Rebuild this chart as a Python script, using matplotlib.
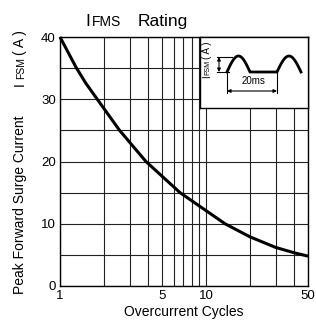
import matplotlib.pyplot as plt
import numpy as np

plt.rcParams['font.family'] = ['Liberation Sans', 'DejaVu Sans']

# values
cycles = [1, 1.29, 1.5, 1.8, 2.56, 3.88, 6.64, 13.5, 20, 30, 40, 50]
ifsm = [40, 35.1, 32.6, 30, 25, 20, 15, 10, 7.9, 6.2, 5.35, 4.8]

x_ticks = [1, 5, 10, 50]
x_grid = [2, 3, 4, 6, 7, 8, 9, 20, 30, 40]
y_ticks = [0, 10, 20, 30, 40]
y_grid = [5, 15, 25, 35]

W, H = 316, 322
fig = plt.figure(figsize=(W / 100, H / 100), dpi=100)


def fx(px):
    return px / W


def fy(py):
    return 1 - py / H


ax = fig.add_axes([fx(60), fy(286), fx(308) - fx(60), fy(37) - fy(286)])
ax.set_xscale('log')
ax.set_xlim(1, 50)
ax.set_ylim(0, 40)
ax.set_xticks(x_ticks)
ax.set_xticklabels([str(v) for v in x_ticks])
ax.set_xticks([], minor=True)
ax.set_yticks(y_ticks)
ax.tick_params(length=0, labelsize=9.5, pad=3)
for v in x_ticks + x_grid:
    ax.axvline(v, color='#222222', lw=0.8, zorder=1)
for v in y_ticks + y_grid:
    ax.axhline(v, color='#222222', lw=0.8, zorder=1)
for s in ax.spines.values():
    s.set_linewidth(1.0)
ax.plot(cycles, ifsm, color='black', lw=2.2, zorder=3, clip_on=False,
        solid_capstyle='butt', solid_joinstyle='round')

ax.set_xlabel('Overcurrent Cycles', fontsize=10, labelpad=2)

# title with subscript-like letters
fig.text(fx(85), fy(26), 'I', fontsize=12.5, ha='left', va='baseline')
fig.text(fx(92), fy(26), 'FMS', fontsize=10, ha='left', va='baseline')
fig.text(fx(138), fy(26), 'Rating', fontsize=12.5, ha='left', va='baseline')

# y label pieces
fig.text(fx(20), fy(205), 'Peak Forward Surge Current', fontsize=10,
         rotation=90, ha='center', va='center')
fig.text(fx(20), fy(84), 'I', fontsize=10, rotation=90, ha='center', va='center')
fig.text(fx(21), fy(68), 'FSM', fontsize=7.5, rotation=90, ha='center', va='center')
fig.text(fx(20), fy(43), '( A )', fontsize=10, rotation=90, ha='center', va='center')

# inset waveform diagram
ins = fig.add_axes([fx(200), fy(108), fx(308) - fx(200), fy(37) - fy(108)])
ins.set_xlim(0, 108)
ins.set_ylim(0, 71)
ins.set_xticks([])
ins.set_yticks([])
ins.set_facecolor('white')
for s in ins.spines.values():
    s.set_linewidth(1.0)

base, amp = 36, 16
t = np.linspace(0, np.pi, 40)
h1 = 27 + (50 - 27) * t / np.pi
h2 = 77 + (101 - 77) * t / np.pi
wx = np.concatenate([h1, [77], h2])
wy = np.concatenate([base + amp * np.sin(t), [base], base + amp * np.sin(t)])
ins.plot(wx, wy, color='black', lw=2)

ins.plot([17, 32], [51, 51], color='black', lw=0.8)
ins.plot([17, 29], [base, base], color='black', lw=0.8)
ins.annotate('', xy=(19, 51), xytext=(19, base),
             arrowprops=dict(arrowstyle='<|-|>', lw=0.8, color='black',
                             mutation_scale=5, shrinkA=0, shrinkB=0))
ins.plot([27, 27], [15, 35], color='black', lw=0.8)
ins.plot([77, 77], [15, 35], color='black', lw=0.8)
ins.annotate('', xy=(27, 17), xytext=(77, 17),
             arrowprops=dict(arrowstyle='<|-|>', lw=0.8, color='black',
                             mutation_scale=5, shrinkA=0, shrinkB=0))
ins.text(53, 22, '20ms', fontsize=7, ha='center', va='bottom')
ins.text(7, 31, 'I', fontsize=7, rotation=90, ha='center', va='center')
ins.text(7.5, 41, 'FSM', fontsize=5, rotation=90, ha='center', va='center')
ins.text(7, 58, '( A )', fontsize=7, rotation=90, ha='center', va='center')

fig.savefig('out.png', dpi=100)
